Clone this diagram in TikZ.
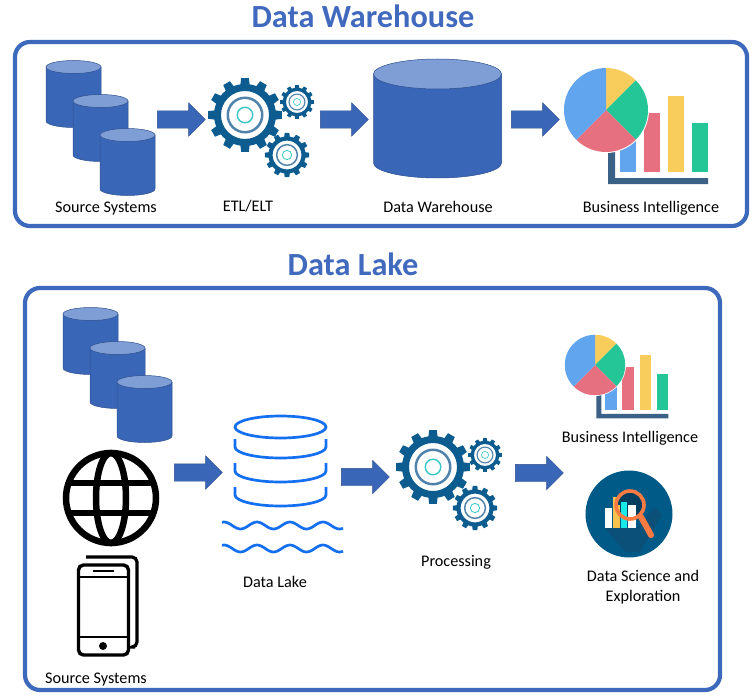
\documentclass[tikz,border=0pt]{standalone}
\usepackage{fontspec}
\setmainfont{Carlito}
\usetikzlibrary{shapes.arrows}

\definecolor{framecol}{HTML}{3D69BC}
\definecolor{titlecol}{HTML}{4169BD}
\definecolor{storecol}{HTML}{3A66B8}
\definecolor{storetop}{HTML}{7F9ED6}
\definecolor{storeline}{HTML}{2F4F8C}
\definecolor{gearcol}{HTML}{0D5C8F}
\definecolor{ringcol}{HTML}{4F83AB}
\definecolor{tealcol}{HTML}{3CC8C8}
\definecolor{piegreen}{HTML}{24C596}
\definecolor{pieblue}{HTML}{60A5EE}
\definecolor{piered}{HTML}{E66F80}
\definecolor{pieyellow}{HTML}{F8CD5C}
\definecolor{axiscol}{HTML}{3C6187}
\definecolor{lakecol}{HTML}{1470F0}
\definecolor{sciencecol}{HTML}{005A87}
\definecolor{scienceshade}{HTML}{0B5079}
\definecolor{lenscol}{HTML}{FB7B42}

\tikzset{
  frame/.style={draw=framecol,line width=4.2pt,rounded corners=15pt},
  title/.style={text=titlecol,font=\fontsize{32.3}{36}\selectfont\bfseries},
  caption/.style={font=\fontsize{16.2}{20}\selectfont,align=center,inner sep=0pt,anchor=base},
  blockarrow/.style={single arrow,fill=storecol,draw=storeline,line width=0.4pt,inner sep=0pt,
    text height=17pt,text depth=0pt,
    minimum height=48pt,minimum width=33pt,single arrow head extend=8pt,single arrow head indent=0pt},
  lake/.style={draw=lakecol,line width=2.7pt},
  pics/datastore/.style n args={3}{code={
    \draw[storeline,fill=storecol,line width=0.5pt] (-#1,0) -- (-#1,-#3) arc[start angle=180,end angle=360,x radius=#1,y radius=#2] -- (#1,0) -- cycle;
    \draw[storeline,fill=storetop,line width=0.5pt] (0,0) ellipse[x radius=#1,y radius=#2];
  }},
  pics/gear/.style={code={
    \foreach \a in {0,30,...,330}
      \fill[gearcol] (\a-9:30) -- (\a-6:37) -- (\a+6:37) -- (\a+9:30) -- cycle;
    \fill[gearcol,even odd rule] (0,0) circle[radius=31] (0,0) circle[radius=24];
    \fill[ringcol,even odd rule] (0,0) circle[radius=18.5] (0,0) circle[radius=16];
    \fill[tealcol,even odd rule] (0,0) circle[radius=8.5] (0,0) circle[radius=7];
  }},
  pics/chart/.style={code={
    \fill[axiscol] (2,-32) -- (9,-32) -- (9,-68) -- (102,-68) -- (102,-74) -- (2,-74) -- cycle;
    \fill[pieblue] (14,-15) rectangle (30,-62);
    \fill[piered] (38,-3) rectangle (54,-62);
    \fill[pieyellow] (62,14) rectangle (78,-62);
    \fill[piegreen] (86,-13) rectangle (102,-62);
    \fill[white] (0,0) circle[radius=43];
    \fill[pieyellow] (0,0) -- (90:42) arc[start angle=90,end angle=45,radius=42] -- cycle;
    \fill[piegreen] (0,0) -- (45:42) arc[start angle=45,end angle=-45,radius=42] -- cycle;
    \fill[piered] (0,0) -- (-45:42) arc[start angle=-45,end angle=-135,radius=42] -- cycle;
    \fill[pieblue] (0,0) -- (-135:42) arc[start angle=-135,end angle=-270,radius=42] -- cycle;
  }}
}

\begin{document}
\begin{tikzpicture}[x=1pt,y=1pt]

\useasboundingbox (0,0) rectangle (754,-698);

% top part
\node[title] (warehousetitle) at (363,-16) {Data Warehouse};
\draw[frame] (15,-42) rectangle (747,-226);

\pic at (73.5,-67) {datastore={27.5}{6.5}{54}};
\pic at (100.5,-101) {datastore={27.5}{6.5}{54}};
\pic at (127.5,-135) {datastore={27.5}{6.5}{54}};
\pic at (437.5,-74) {datastore={64}{15}{89}};

\node[blockarrow] (arrowa) at (177,-119.5) {};
\node[blockarrow] (arrowb) at (340,-119.5) {};
\node[blockarrow] (arrowc) at (531,-119.5) {};

\pic at (245,-115) {gear};
\pic[scale=0.46] at (297,-102) {gear};
\pic[scale=0.6] at (287,-155) {gear};

\pic at (606,-110) {chart};

\node[caption] (sourcesa) at (106,-212) {Source Systems};
\node[caption] (etl) at (248,-211) {ETL/ELT};
\node[caption] (warehouse) at (438,-212) {Data Warehouse};
\node[caption] (bia) at (651,-212) {Business Intelligence};

% bottom part
\node[title] (laketitle) at (353,-264) {Data Lake};
\draw[frame] (25,-288) rectangle (720,-690);

\pic at (90.5,-314) {datastore={27.5}{6.5}{54}};
\pic at (117.5,-348) {datastore={27.5}{6.5}{54}};
\pic at (144.5,-382) {datastore={27.5}{6.5}{54}};

% globe
\begin{scope}[line width=6.5pt]
\draw (111,-498) circle[radius=45];
\draw (111,-498) ellipse[x radius=15,y radius=45];
\draw (68,-483) -- (154,-483);
\draw (68,-513) -- (154,-513);
\end{scope}

% phone
\draw[line width=3.2pt,rounded corners=5pt] (86,-557) -- (137,-557) -- (137,-647) -- (135,-647);
\draw[fill=white,line width=3.4pt,rounded corners=5pt] (78.5,-565) rectangle (128.5,-655);
\draw[line width=2.2pt] (78.5,-577) -- (128.5,-577);
\draw[line width=2.2pt] (78.5,-637) -- (128.5,-637);
\draw[line width=2.2pt] (93,-571) -- (114,-571);
\fill (103,-646) circle[radius=4];

\node[blockarrow] (arrowd) at (194,-472.5) {};
\node[blockarrow] (arrowe) at (361,-477) {};
\node[blockarrow] (arrowf) at (535,-473) {};

% data lake
\draw[lake] (280.5,-427) ellipse[x radius=45.5,y radius=11];
\foreach \y in {439,463,487} {
  \draw[lake] (235,-\y) -- (235,-\y-8) arc[start angle=180,end angle=360,x radius=45.5,y radius=11] -- (326,-\y);
}
\foreach \y in {525.5,548.5} {
  \draw[lake] plot[smooth,domain=222:343,samples=60] (\x,{-\y+3.5*cos((\x-257)*10.909)});
}

\pic at (433,-467) {gear};
\pic[scale=0.46] at (485,-455) {gear};
\pic[scale=0.6] at (475,-508) {gear};

\pic[scale=0.72] at (595,-365) {chart};

% science badge
\fill[sciencecol] (629,-514) circle[radius=43.5];
\begin{scope}
\clip (629,-514) circle[radius=43.5];
\fill[scienceshade] (605,-528) -- (636,-528) -- (655,-507) -- (662,-515) -- (640,-552) -- (625,-552) -- cycle;
\end{scope}
\fill[white] (605,-508) rectangle (612,-528);
\fill[pieyellow!85!orange] (613,-497) rectangle (620,-528);
\fill[tealcol!40!cyan] (621,-502) rectangle (627,-528);
\fill[white] (628,-505) rectangle (636,-528);
\fill[sciencecol!70!black] (630,-505) circle[radius=13];
\begin{scope}
\clip (630,-505) circle[radius=13];
\fill[pieyellow!85!orange] (613,-505) rectangle (620,-528);
\fill[tealcol!40!cyan] (621,-502) rectangle (627,-528);
\fill[white] (628,-505) rectangle (636,-528);
\end{scope}
\draw[lenscol,line width=3.6pt] (630,-505) circle[radius=14];
\draw[lenscol,line width=6pt,line cap=round] (641,-517) -- (651,-535);

\node[caption] (sourcesb) at (96,-683) {Source Systems};
\node[caption] (datalake) at (275,-587) {Data Lake};
\node[caption] (processing) at (456,-566) {Processing};
\node[caption] (bib) at (630,-442) {Business Intelligence};
\node[caption,anchor=center] (science) at (643,-587) {Data Science and\\Exploration};

\end{tikzpicture}
\end{document}
